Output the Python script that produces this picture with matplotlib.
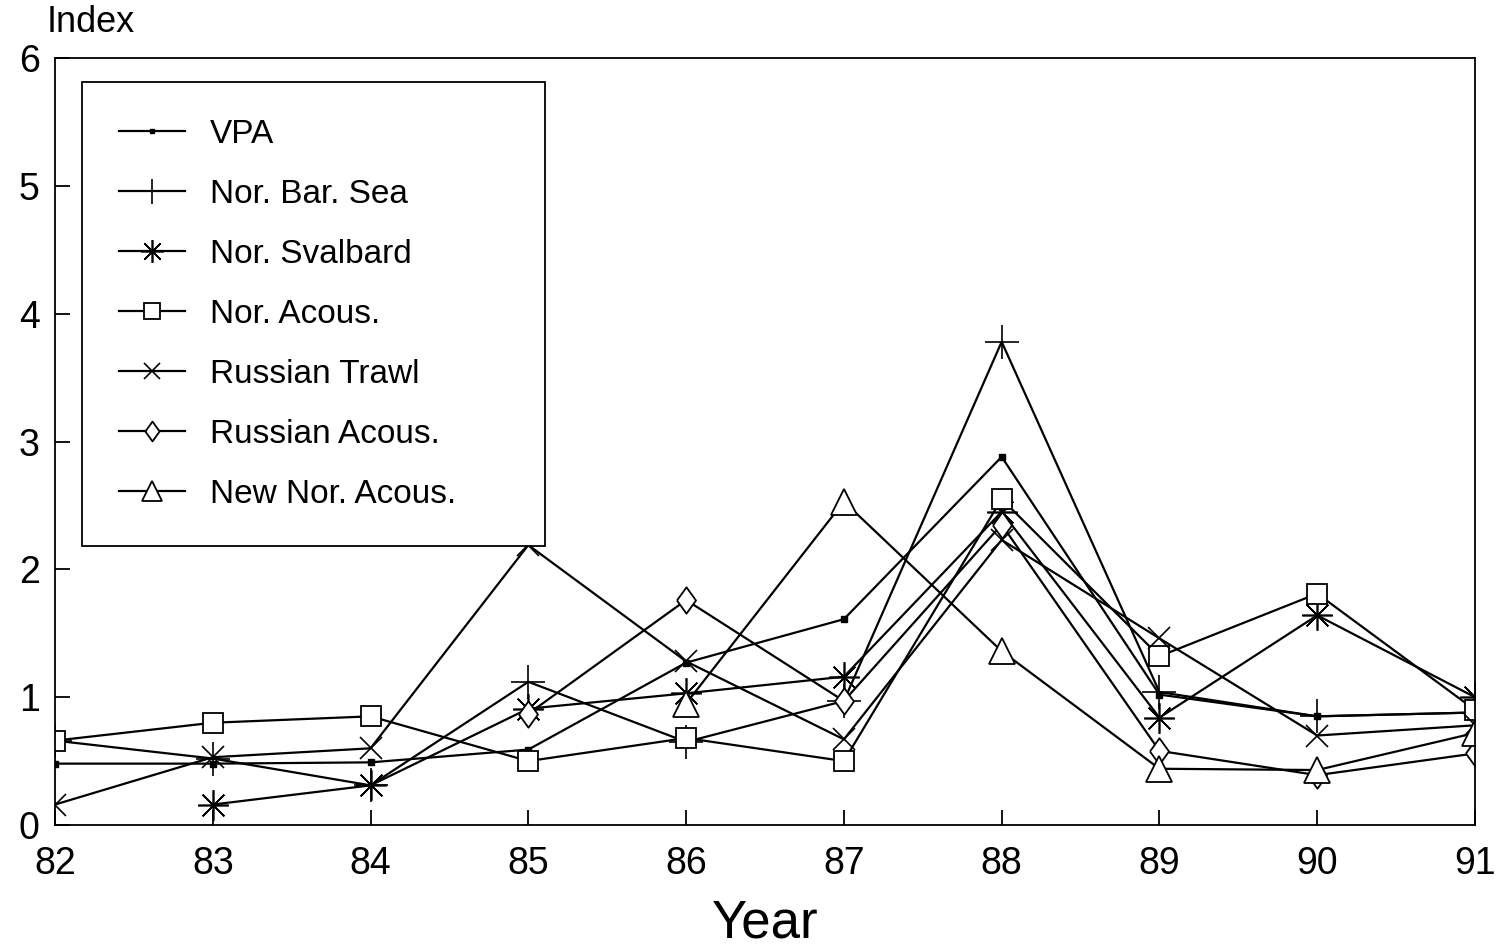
import numpy as np
import matplotlib
matplotlib.use("Agg")
import matplotlib.pyplot as plt

plt.rcParams['font.family'] = ['Liberation Sans', 'DejaVu Sans']

years = [82, 83, 84, 85, 86, 87, 88, 89, 90, 91]

vpa = [0.48, 0.48, 0.49, 0.59, 1.27, 1.61, 2.88, 1.02, 0.85, 0.88]
nor_bar_sea = [0.66, 0.52, 0.31, 1.12, 0.65, 0.97, 3.78, 1.04, 0.85, 0.88]
nor_svalbard = [None, 0.16, 0.31, 0.91, 1.03, 1.16, 2.45, 0.84, 1.64, 1.00]
nor_acous = [0.66, 0.80, 0.85, 0.50, 0.68, 0.50, 2.55, 1.32, 1.81, 0.90]
russian_trawl = [0.16, 0.53, 0.60, 2.19, 1.28, 0.67, 2.23, 1.46, 0.70, 0.78]
russian_acous = [None, None, None, 0.87, 1.76, 0.97, 2.35, 0.58, 0.39, 0.56]
new_nor_acous = [None, None, None, None, 0.95, 2.53, 1.36, 0.44, 0.43, 0.72]

labels = ['VPA', 'Nor. Bar. Sea', 'Nor. Svalbard', 'Nor. Acous.',
          'Russian Trawl', 'Russian Acous.', 'New Nor. Acous.']

# tall diamond as a custom marker
diamond = [(-0.72, 0), (0, 1), (0.72, 0), (0, -1), (-0.72, 0)]

styles = [
    dict(marker='s', ms=4, mfc='black'),
    dict(marker='+', ms=24, mew=1.2),
    dict(marker=(8, 2, 0), ms=22, mew=1.2),
    dict(marker='s', ms=15, mfc='white', mew=1.3),
    dict(marker='x', ms=16, mew=1.2),
    dict(marker=diamond, ms=19, mfc='white', mew=1.3),
    dict(marker='^', ms=19, mfc='white', mew=1.3),
]

series = [vpa, nor_bar_sea, nor_svalbard, nor_acous,
          russian_trawl, russian_acous, new_nor_acous]

fig = plt.figure(figsize=(15.05, 9.46), dpi=100)
ax = fig.add_axes([55/1505, 1-825/946, (1475-55)/1505, (825-58)/946])

for vals, lab, st in zip(series, labels, styles):
    x = [yr for yr, v in zip(years, vals) if v is not None]
    y = [v for v in vals if v is not None]
    ax.plot(x, y, color='black', lw=1.6, mec='black', label=lab, **st)

ax.set_xlim(82, 91)
ax.set_ylim(0, 6)
ax.set_xticks(years)
ax.set_xticklabels([str(y) for y in years])
ax.set_yticks(range(0, 7))
ax.tick_params(direction='in', length=11, width=1.3, labelsize=27,
               top=False, right=False)
ax.tick_params(axis='x', pad=15)
ax.tick_params(axis='y', pad=11)
for sp in ax.spines.values():
    sp.set_linewidth(1.3)

ax.set_xlabel('Year', fontsize=38, labelpad=12)
fig.text(47/1505, 1-23/946, 'Index', fontsize=26, va='center', ha='left')

# legend box spans x 82..545 px, y 82..545 px in the reference
leg = ax.legend(loc='upper left',
                bbox_to_anchor=(82/1505, 1-545/946, (545-82)/1505, (545-82)/946),
                bbox_transform=fig.transFigure, mode='expand', fontsize=24,
                frameon=True, fancybox=False, edgecolor='black', framealpha=1,
                borderpad=1.1, labelspacing=0.87, handlelength=2.0,
                handletextpad=0.75, borderaxespad=0, markerscale=0.75)
leg.get_frame().set_linewidth(1.3)

fig.savefig('out.png', dpi=100)
